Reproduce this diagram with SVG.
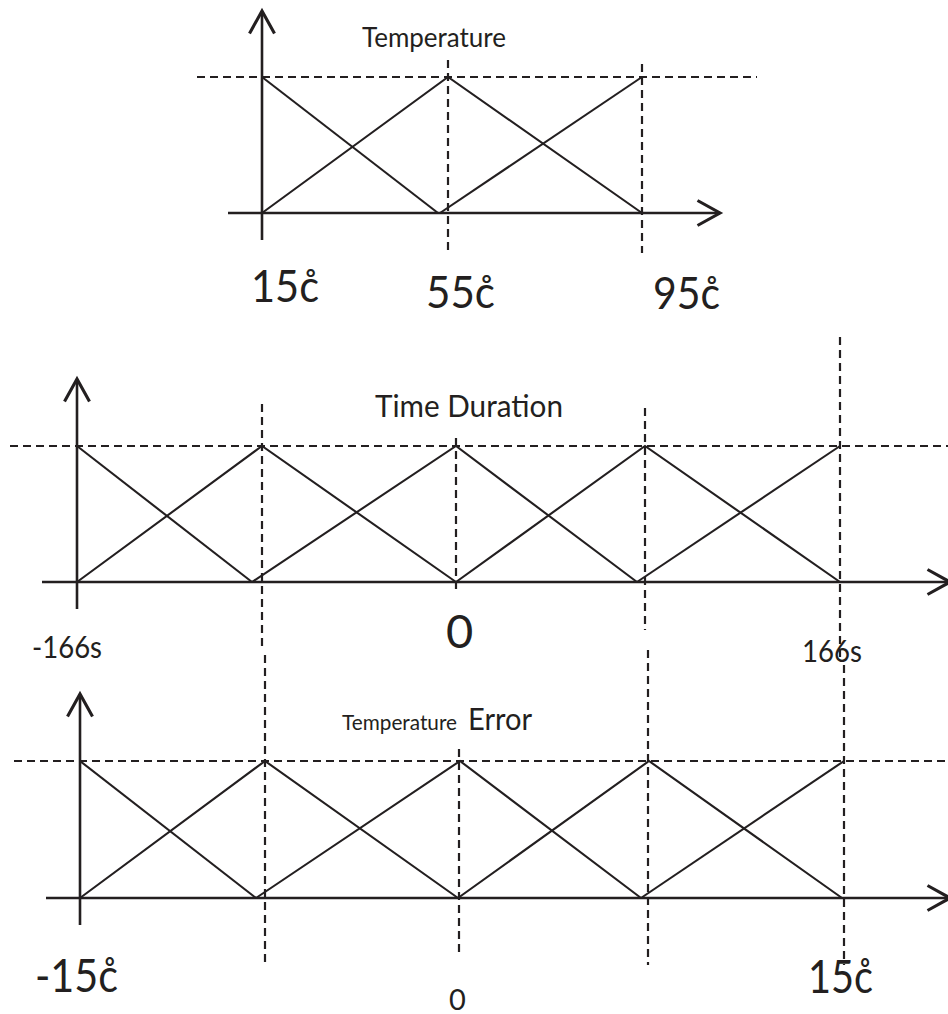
<svg xmlns="http://www.w3.org/2000/svg" width="948" height="1014" viewBox="0 0 948 1014">
  <defs>
    <marker id="arr" markerUnits="userSpaceOnUse" markerWidth="30" markerHeight="30" refX="0" refY="0" viewBox="-20 -12 24 24" orient="auto" overflow="visible">
      <path d="M-18,-10 L0,0 L-18,10" fill="none" stroke="#231f20" stroke-width="2.5"/>
    </marker>
  </defs>
  <style>
    .axis { stroke:#231f20; stroke-width:2.6; fill:none; marker-end:url(#arr); }
    .dash { stroke:#231f20; stroke-width:2.2; stroke-dasharray:8 5; fill:none; }
    .mf { stroke:#231f20; stroke-width:2.1; fill:none; }
    text { font-family:Lato, "Liberation Sans", "DejaVu Sans", sans-serif; fill:#231f20; }
  </style>
  <rect width="948" height="1014" fill="#ffffff"/>

  <g id="chart-temperature">
    <g class="guides">
      <line class="dash" x1="197" y1="77" x2="757" y2="77"/>
      <line class="dash" x1="448" y1="60" x2="448" y2="250"/>
      <line class="dash" x1="642" y1="64" x2="642" y2="253"/>
    </g>
    <g class="membership">
      <polyline class="mf" points="262,77 438,213"/>
      <polyline class="mf" points="262,213 448,77 642,213"/>
      <polyline class="mf" points="440,213 642,77"/>
    </g>
    <g class="axes">
      <line class="axis" x1="262" y1="240" x2="262" y2="11"/>
      <line class="axis" x1="228" y1="213" x2="720" y2="213"/>
    </g>
    <text x="362" y="47" font-size="27" textLength="144" lengthAdjust="spacingAndGlyphs">Temperature</text>
    <text x="251" y="302" font-size="45" textLength="68" lengthAdjust="spacingAndGlyphs">15c̊</text>
    <text x="426" y="308" font-size="45" textLength="69" lengthAdjust="spacingAndGlyphs">55c̊</text>
    <text x="653" y="309" font-size="45" textLength="67" lengthAdjust="spacingAndGlyphs">95c̊</text>
  </g>

  <g id="chart-time">
    <g class="guides">
      <line class="dash" x1="10" y1="446" x2="948" y2="446"/>
      <line class="dash" x1="262" y1="404" x2="262" y2="650"/>
      <line class="dash" x1="456" y1="438" x2="456" y2="593"/>
      <line class="dash" x1="645" y1="408" x2="645" y2="630"/>
      <line class="dash" x1="840" y1="337" x2="840" y2="662"/>
    </g>
    <g class="membership">
      <polyline class="mf" points="77,446 252,582"/>
      <polyline class="mf" points="77,582 262,446 456,582"/>
      <polyline class="mf" points="252,582 456,446 637,582"/>
      <polyline class="mf" points="456,582 645,446 840,582"/>
      <polyline class="mf" points="637,582 840,446"/>
    </g>
    <g class="axes">
      <line class="axis" x1="77" y1="609" x2="77" y2="379"/>
      <line class="axis" x1="42" y1="582" x2="950" y2="582"/>
    </g>
    <text x="375" y="417" font-size="31" textLength="188" lengthAdjust="spacingAndGlyphs">Time Duration</text>
    <text x="32" y="658" font-size="31" textLength="70" lengthAdjust="spacingAndGlyphs">-166s</text>
    <text x="446" y="648" font-size="47">0</text>
    <text x="802" y="662" font-size="31" textLength="60" lengthAdjust="spacingAndGlyphs">166s</text>
  </g>

  <g id="chart-error">
    <g class="guides">
      <line class="dash" x1="14" y1="761" x2="948" y2="761"/>
      <line class="dash" x1="265" y1="655" x2="265" y2="965"/>
      <line class="dash" x1="459" y1="749" x2="459" y2="957"/>
      <line class="dash" x1="648" y1="650" x2="648" y2="965"/>
      <line class="dash" x1="844" y1="665" x2="844" y2="965"/>
    </g>
    <g class="membership">
      <polyline class="mf" points="80,761 256,898"/>
      <polyline class="mf" points="80,898 265,761 458,898"/>
      <polyline class="mf" points="256,898 460,761 641,898"/>
      <polyline class="mf" points="458,898 649,761 842,898"/>
      <polyline class="mf" points="641,898 844,761"/>
    </g>
    <g class="axes">
      <line class="axis" x1="80" y1="925" x2="80" y2="694"/>
      <line class="axis" x1="46" y1="898" x2="950" y2="898"/>
    </g>
    <text x="342" y="730" font-size="21.5" textLength="115" lengthAdjust="spacingAndGlyphs">Temperature</text>
    <text x="468" y="730" font-size="30" textLength="64" lengthAdjust="spacingAndGlyphs">Error</text>
    <text x="35" y="992" font-size="46" textLength="83" lengthAdjust="spacingAndGlyphs">-15c̊</text>
    <text x="449" y="1010" font-size="29">0</text>
    <text x="808" y="993" font-size="46" textLength="65" lengthAdjust="spacingAndGlyphs">15c̊</text>
  </g>
</svg>
